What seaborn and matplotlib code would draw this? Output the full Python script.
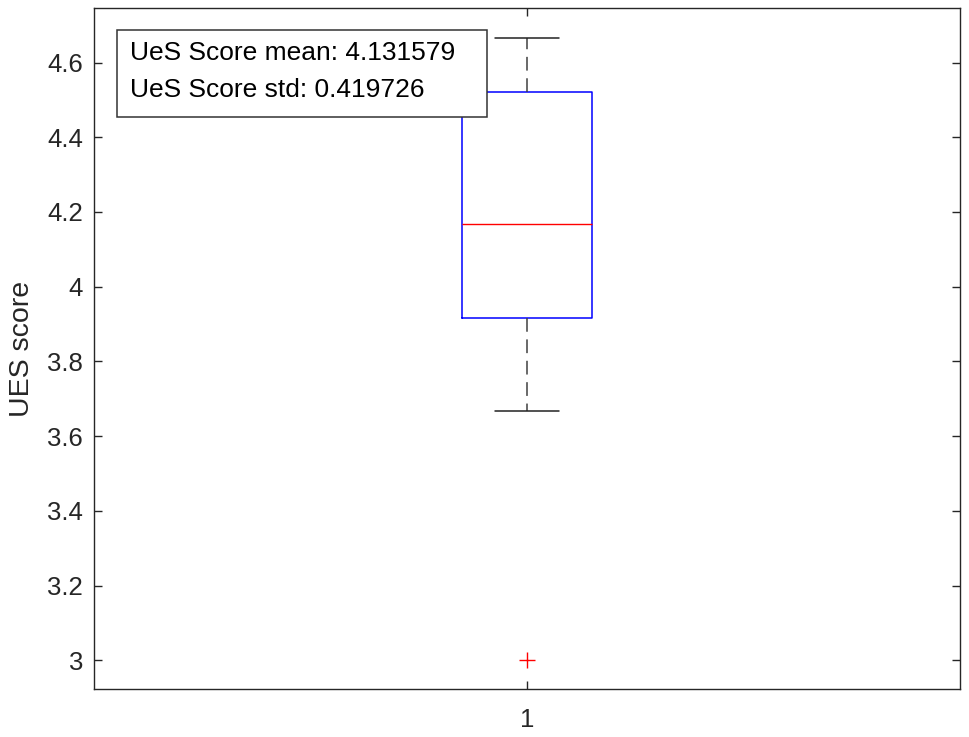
import numpy as np
import pandas as pd
import seaborn as sns
import matplotlib.pyplot as plt
from matplotlib.patches import Rectangle

# UES scores (19 participants)
scores = [3.0, 3.667, 3.667, 3.75, 3.917, 3.917, 3.917, 4.0, 4.083, 4.167,
          4.167, 4.25, 4.333, 4.52, 4.52, 4.583, 4.583, 4.667, 4.667]
group = ["1"] * len(scores)
stats_text = ["UeS Score mean: 4.131579", "UeS Score std: 0.419726"]
y_ticks = [3, 3.2, 3.4, 3.6, 3.8, 4, 4.2, 4.4, 4.6]
y_tick_labels = ["3", "3.2", "3.4", "3.6", "3.8", "4", "4.2", "4.4", "4.6"]

df = pd.DataFrame({"group": group, "score": scores})

sns.set_style("white")
plt.rcParams['font.family'] = ['Liberation Sans', 'DejaVu Sans']

fig = plt.figure(figsize=(9.69, 7.37), dpi=100)
ax = fig.add_axes([0.097, 0.0651, 0.8937, 0.924])

dark = "#262626"
sns.boxplot(data=df, x="group", y="score", ax=ax, fill=False, width=0.15,
            whis=1.5, linewidth=1,
            boxprops=dict(color="blue", linewidth=1.1),
            medianprops=dict(color="red", linewidth=1),
            whiskerprops=dict(color="#404040", linewidth=1.1, linestyle=(0, (9, 5))),
            capprops=dict(color="#222222", linewidth=1.1),
            flierprops=dict(marker="+", markeredgecolor="red", markersize=12,
                            markeredgewidth=1, linestyle="none"))

ax.set_xlim(-0.5, 0.5)
ax.set_ylim(2.923, 4.746)
ax.set_yticks(y_ticks)
ax.set_yticklabels(y_tick_labels)
ax.set_xlabel("")
ax.set_ylabel("UES score", fontsize=20.5, color=dark, labelpad=9)

for s in ax.spines.values():
    s.set_visible(True)
    s.set_color(dark)
    s.set_linewidth(1)
ax.tick_params(direction="in", length=6, width=1, color=dark, labelcolor=dark,
               labelsize=18.5, top=True, right=True, left=True, bottom=True)
ax.tick_params(axis="y", pad=8)
ax.tick_params(axis="x", pad=14)

# stats box in the upper left
ax.add_patch(Rectangle((0.0266, 0.840), 0.427, 0.128, transform=ax.transAxes,
                       facecolor="white", edgecolor="#333333", linewidth=1.1, zorder=5))
ax.text(0.0416, 0.9236, stats_text[0], transform=ax.transAxes, fontsize=19,
        va="baseline", ha="left", color="black", zorder=6)
ax.text(0.0416, 0.869, stats_text[1], transform=ax.transAxes, fontsize=19,
        va="baseline", ha="left", color="black", zorder=6)

fig.savefig("out.png", dpi=100)
